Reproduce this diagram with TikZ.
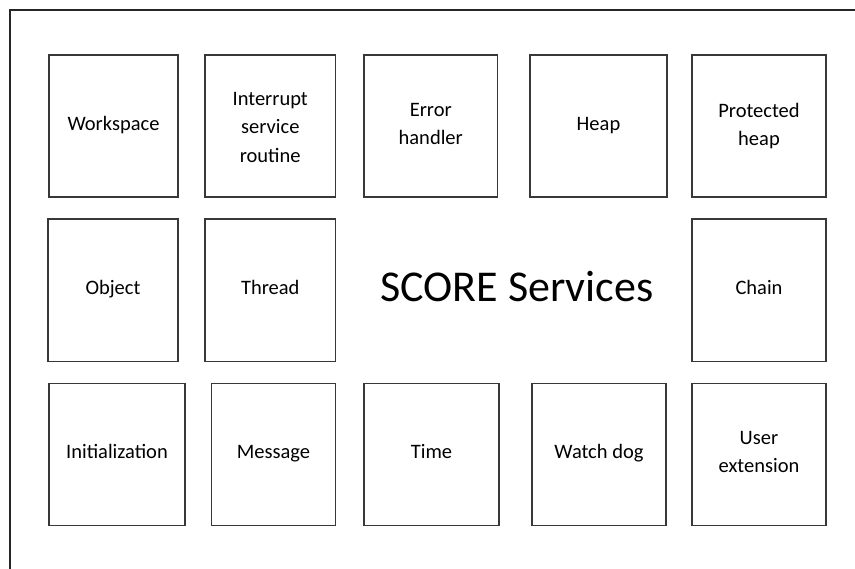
\documentclass[tikz,border=0pt]{standalone}
\usepackage{fontspec}
\setmainfont{Carlito}
% fixed line height and depth so every label sits at the same level
\newcommand{\labelstrut}{\rule[-6.5pt]{0pt}{22pt}}
% first-line strut for labels set on several lines
\newcommand{\firstline}[1][15.5pt]{\rule{0pt}{#1}}
\begin{document}
\begin{tikzpicture}[x=1pt,y=-1pt,
  svc/.style={draw=black!78, line width=1.4pt, fill=white, inner sep=0pt,
    align=center, minimum height=142pt,
    font=\fontsize{20.5}{28}\selectfont,
    execute at begin node=\labelstrut, execute at end node=\labelstrut},
  frameline/.style={draw=black!85, line width=1.3pt}]
\useasboundingbox (0,0) rectangle (855,569);
% open frame along the top and the left
\coordinate (ftl) at (10,10);
\coordinate (ftr) at (856,10);
\coordinate (fbl) at (10,570);
\draw[frameline] (ftr) -- (ftl) -- (fbl);

% first row
\node[svc, minimum width=129pt]   (ws)   at (113.5,126) {Workspace};
\node[svc, minimum width=130.5pt, font=\fontsize{20.5}{28.5}\selectfont]
      (isr)  at (270.25,126) {\firstline[22pt]Interrupt\\service\\routine};
\node[svc, minimum width=133.5pt] (err)  at (430.75,126) {\firstline Error\\handler};
\node[svc, minimum width=137pt]   (heap) at (598.5,126) {Heap};
\node[svc, minimum width=134pt]
      (ph)   at (759,126) {\firstline[18pt]Protected\\heap};

% second row
\node[svc, minimum width=130pt, minimum height=142.5pt]   (obj)   at (113,290.25) {Object};
\node[svc, minimum width=130.5pt, minimum height=142.5pt] (thr)   at (270.25,290.25) {Thread};
\node[svc, minimum width=134pt, minimum height=142.5pt]   (chain) at (759,290.25) {Chain};

% title in the middle
\node[anchor=base, font=\fontsize{44}{50}\selectfont, inner sep=0pt] (title) at (517,302) {SCORE Services};

% third row
\node[svc, minimum width=136pt] (init) at (117,454.3) {Initialization};
\node[svc, minimum width=124pt] (msg)  at (273.5,454.3) {Message};
\node[svc, minimum width=135pt] (time) at (431.5,454.3) {Time};
\node[svc, minimum width=134pt] (wd)   at (599,454.3) {Watch dog};
\node[svc, minimum width=134pt] (ue)   at (759,454.3) {\firstline User\\extension};
\end{tikzpicture}
\end{document}
